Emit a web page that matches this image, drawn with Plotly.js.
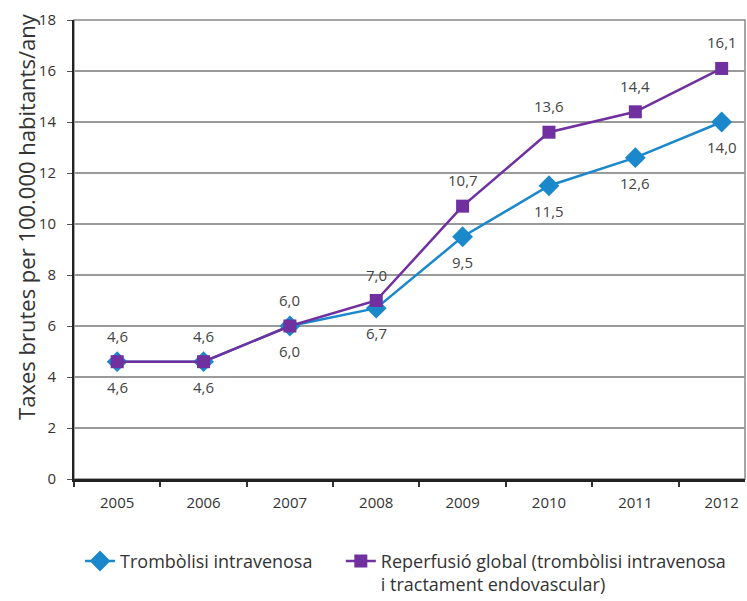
<!DOCTYPE html>
<html>
<head>
<meta charset="utf-8">
<script src="https://cdn.plot.ly/plotly-3.0.1.min.js"></script>
<style>html,body{margin:0;padding:0;background:#fff;}#chart{width:747px;height:601px;}#err{position:absolute;top:0;left:100px;color:red;font-size:12px;}</style>
</head>
<body>
<div id="chart"></div>
<div id="err"></div>
<script>
var years = ['2005','2006','2007','2008','2009','2010','2011','2012'];
var tromb = [4.6, 4.6, 6.0, 6.7, 9.5, 11.5, 12.6, 14.0];
var reperf = [4.6, 4.6, 6.0, 7.0, 10.7, 13.6, 14.4, 16.1];
var nameTromb = 'Trombòlisi intravenosa';
var nameReperf = 'Reperfusió global (trombòlisi intravenosa<br>i tractament endovascular)';
var yTitle = 'Taxes brutes per 100.000 habitants/any';
var yTicks = [0, 2, 4, 6, 8, 10, 12, 14, 16, 18];

var blue = '#1b88cc';
var purple = '#7030a0';
var fontFam = '"Open Sans", "Noto Sans", sans-serif';
var legendPad = '\u00a0\u00a0\u00a0\u00a0\u00a0';

function fmt(v){ return v.toFixed(1).replace('.', ','); }

var traces = [
  {x: years, y: tromb, name: nameTromb + legendPad, type: 'scatter', mode: 'lines+markers',
   line: {color: blue, width: 2.5}, marker: {symbol: 'diamond', size: 16, color: blue}},
  {x: years, y: reperf, name: nameReperf, type: 'scatter', mode: 'lines+markers',
   line: {color: purple, width: 2.5}, marker: {symbol: 'square', size: 13, color: purple}}
];

var annotations = [];
for (var i = 0; i < years.length; i++) {
  annotations.push({x: i, y: tromb[i], xref: 'x', yref: 'y', text: fmt(tromb[i]), showarrow: false,
    yshift: -25, font: {family: fontFam, size: 15, color: '#444'}});
  annotations.push({x: i, y: reperf[i], xref: 'x', yref: 'y', text: fmt(reperf[i]), showarrow: false,
    yshift: 26, font: {family: fontFam, size: 15, color: '#444'}});
}
annotations.push({xref: 'paper', yref: 'paper', x: 0, y: 0.571, xanchor: 'center', yanchor: 'middle',
  xshift: -48, textangle: -90, showarrow: false, text: yTitle,
  font: {family: fontFam, size: 22, color: '#333'}});

var layout = {
  width: 747, height: 601,
  margin: {l: 74, r: 2, t: 20, b: 122, autoexpand: false},
  paper_bgcolor: '#fff', plot_bgcolor: '#fff',
  font: {family: fontFam, color: '#333'},
  showlegend: true,
  legend: {orientation: 'h', x: 0.009, xanchor: 'left', y: -0.139, yanchor: 'top', valign: 'top',
    font: {family: fontFam, size: 18, color: '#333'},
    bgcolor: 'rgba(0,0,0,0)'},
  xaxis: {type: 'category', range: [-0.5, 7.27], tickson: 'boundaries', ticks: 'outside', ticklen: 5,
    tickcolor: '#333', tickwidth: 1.5, showline: true, linecolor: '#222', linewidth: 3,
    showgrid: false, ticklabelstandoff: 8, tickfont: {family: fontFam, size: 15, color: '#333'}},
  yaxis: {range: [0, 18], tickvals: yTicks, ticktext: yTicks.map(String), ticks: 'outside', ticklen: 5,
    tickcolor: '#555', showline: true, linecolor: '#222', linewidth: 2,
    showgrid: true, gridcolor: '#9a9a9a', gridwidth: 1.5, zeroline: false, ticklabelstandoff: 8,
    tickfont: {family: fontFam, size: 15, color: '#333'}},
  shapes: [{type: 'rect', xref: 'paper', yref: 'paper', x0: 0, x1: 1, y0: 0, y1: 1,
    line: {color: '#888', width: 1.5}, layer: 'below'}],
  annotations: annotations
};

try {
  Plotly.newPlot('chart', traces, layout, {displayModeBar: false}).catch(function(e){ document.getElementById('err').textContent = String(e); });
} catch (e) { document.getElementById('err').textContent = String(e); }
</script>
</body>
</html>
